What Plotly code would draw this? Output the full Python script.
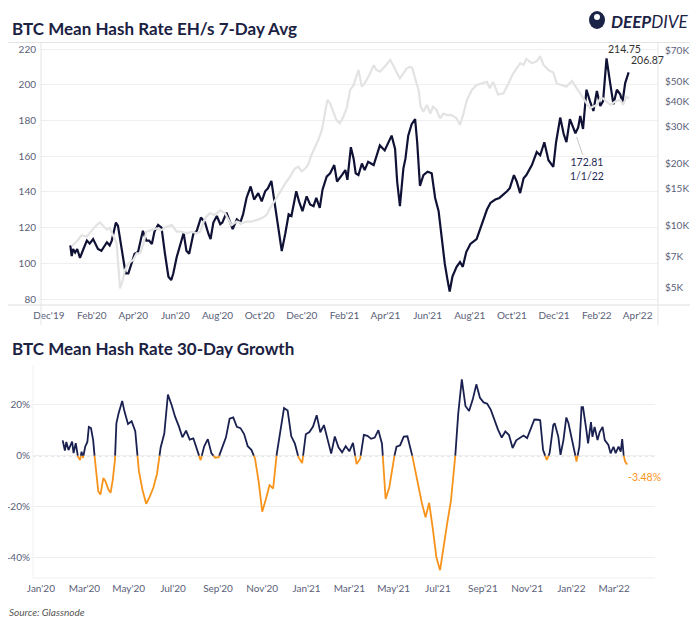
import plotly.graph_objects as go
import pandas as pd

START = pd.Timestamp("2020-01-01")

# ---- Top panel: BTC mean hash rate (EH/s, 7-day avg); day = days since 2020-01-01
hr_day = [0, 2, 4, 7, 10, 14, 19, 24, 28, 33, 40, 45, 53, 57, 60, 66, 69, 74, 80, 84,
          89, 93, 98, 105, 110, 114, 118, 122, 127, 132, 137, 142, 146, 149, 154, 159, 164, 168, 172, 178,
          183, 189, 195, 200, 203, 207, 212, 217, 220, 226, 231, 235, 241, 246, 250, 255, 261, 266, 272, 277,
          282, 286, 291, 296, 301, 306, 311, 316, 320, 327, 331, 336, 342, 347, 352, 356, 361, 365, 371, 376,
          382, 386, 393, 398, 401, 406, 410, 413, 417, 422, 426, 431, 439, 443, 448, 455, 460, 465, 470, 473,
          477, 482, 485, 489, 494, 499, 502, 506, 511, 517, 523, 528, 533, 537, 542, 546, 549, 553, 559, 564,
          568, 573, 579, 588, 595, 603, 608, 615, 621, 627, 632, 636, 642, 646, 651, 656, 660, 668, 675, 680,
          686, 692, 699, 703, 709, 714, 718, 723, 731, 735, 738, 742, 747, 752, 757, 762, 767, 771, 776, 782,
          786, 791, 796, 799, 803, 808]
hr_val = [110, 104, 108, 106, 108, 103, 108, 112.7, 111, 113.6, 108, 107, 111.8, 110, 112.7, 122.8, 121, 109, 94.3, 94.3,
          100.7, 105.3, 106.3, 118.2, 112.7, 112.7, 110.8, 118, 121.5, 120, 105.3, 92.5, 90.6, 94.3, 103.5, 110.8, 117, 107, 105.3, 116.4,
          118.2, 125.6, 122.8, 116.4, 113.6, 122.8, 126.5, 121.9, 122.8, 128.3, 122.8, 119.1, 124.6, 122.8, 127.4, 136.6, 143, 135.7, 139.3, 134.7,
          140.3, 142, 146.1, 132.9, 121.9, 106.8, 116.4, 127.4, 126.5, 140.3, 134.7, 129.2, 137.5, 132.9, 132, 136.6, 131, 141.2, 148.5, 150.4,
          155, 145.8, 149.4, 152.2, 146.7, 165, 158.6, 150.4, 149.4, 155.9, 152.2, 156.8, 155, 159.6, 166, 163.2, 167, 171.5, 164, 145.8,
          132, 153, 158.6, 171.5, 177.9, 180.7, 167.8, 143.4, 149.4, 151.3, 150.4, 136.6, 129.2, 114.5, 99.6, 90.4, 84.2, 92.5, 98, 100.7,
          98, 106.3, 110.8, 113.6, 121, 130.1, 133.8, 135.7, 136.6, 138.4, 140.3, 142.1, 149.4, 145.8, 139.3, 147.6, 149.4, 155, 162.3, 160.5,
          167.8, 157.7, 154, 167.8, 181.6, 172.4, 167.8, 180.7, 172.81, 176.1, 182.5, 175.2, 197.2, 190.8, 185.3, 196.5, 188.1, 190.8, 214.75, 199.1,
          189, 197.2, 194.5, 189.9, 200.9, 206.87]

# ---- Top panel: BTC price (USD, right log axis)
px_day = [2, 9, 16, 24, 31, 38, 43, 48, 53, 57, 62, 67, 72, 76, 79, 84, 91, 96, 101, 106,
          110, 118, 125, 132, 139, 147, 154, 161, 168, 176, 183, 188, 193, 197, 202, 209, 217, 224, 229, 233,
          241, 248, 255, 262, 270, 277, 284, 289, 294, 299, 303, 311, 318, 325, 330, 335, 340, 344, 349, 354,
          359, 364, 369, 372, 376, 381, 385, 390, 395, 400, 405, 410, 414, 417, 422, 426, 434, 439, 443, 448,
          455, 463, 467, 472, 477, 482, 487, 492, 495, 499, 504, 507, 511, 516, 521, 525, 530, 535, 540, 545,
          552, 559, 564, 569, 574, 581, 588, 595, 603, 607, 612, 619, 627, 634, 641, 646, 651, 656, 660, 668,
          675, 680, 685, 692, 699, 704, 711, 718, 726, 733, 740, 747, 752, 757, 762, 767, 771, 776, 782, 788,
          796, 800, 805, 809]
px_val = [7900, 8300, 8900, 8800, 9400, 10000, 10300, 9900, 9500, 9700, 8950, 8160, 4930, 5410, 6050, 6520, 6770, 7290, 7290, 8160,
          9290, 9460, 9640, 9460, 9820, 10000, 9290, 9290, 9120, 9290, 9120, 9290, 10400, 11000, 11400, 11200, 11800, 11400, 10600, 10000,
          10400, 10200, 10400, 10400, 10600, 10800, 11200, 12100, 12800, 13700, 14300, 15900, 17200, 18800, 19200, 18200, 18800, 19600, 21900, 23600,
          25900, 28900, 34800, 40500, 39000, 35500, 32400, 31200, 33500, 37000, 45300, 47900, 53500, 56600, 47000, 48700, 54500, 59800, 56600, 55500,
          58700, 63300, 59800, 55500, 51500, 54500, 57700, 58700, 57700, 51500, 45300, 37600, 35500, 38300, 34800, 37600, 36200, 33000, 34800, 34200,
          34200, 33000, 30600, 34800, 40500, 45300, 47900, 48700, 49600, 46100, 49600, 43000, 43600, 48700, 54500, 57700, 61000, 60000, 64000, 61000,
          62500, 66000, 59800, 56600, 55000, 48700, 47900, 47000, 50000, 46100, 42800, 39700, 36900, 37600, 38300, 41200, 41200, 39700, 38300, 39700,
          40500, 38300, 42000, 41200]

# ---- Bottom panel: 30-day growth of hash rate (%)
gr_day = [30, 33, 35, 38, 41, 43, 45, 48, 51, 54, 56, 58, 61, 64, 66, 69, 72, 74, 77, 79,
          82, 86, 89, 93, 96, 99, 102, 104, 107, 110, 112, 115, 120, 125, 130, 135, 140, 145, 150, 155,
          160, 165, 170, 175, 180, 185, 190, 195, 200, 205, 210, 215, 220, 225, 230, 235, 240, 245, 250, 255,
          260, 265, 270, 275, 280, 285, 290, 295, 300, 305, 310, 315, 320, 325, 330, 335, 340, 345, 350, 355,
          360, 365, 370, 375, 380, 385, 390, 395, 400, 405, 410, 415, 420, 425, 430, 435, 440, 445, 450, 455,
          460, 465, 470, 475, 480, 485, 490, 495, 500, 505, 510, 515, 520, 525, 530, 535, 540, 545, 550, 555,
          560, 565, 570, 575, 580, 585, 590, 595, 600, 605, 610, 615, 620, 625, 630, 635, 640, 645, 650, 655,
          660, 665, 670, 675, 680, 685, 688, 692, 697, 701, 706, 708, 713, 716, 720, 724, 727, 731, 735, 738,
          742, 745, 747, 751, 754, 758, 760, 763, 767, 770, 774, 777, 782, 785, 789, 792, 796, 799, 801, 803,
          805, 808]
gr_val = [6, 2, 5.4, 2.2, 4.2, 5.5, 1, 4.9, -0.4, -1.7, 1.6, -0.9, 3.5, 5.4, 11.3, 10.8, 6.1, -0.4, -6.9, -14,
          -15.3, -8.8, -10.1, -13.3, -14.6, -9.5, -1.7, 12.7, 16.6, 19.5, 21.5, 17.5, 12.4, 13.5, 9.6, -6.1, -13.5, -18.9, -16.1, -12.5,
          -7.1, 3.2, 8.7, 24, 20, 15.2, 11.6, 7.2, 9.8, 6.3, 6.8, 2.5, -1.8, 3.7, 6.5, 0.9, -0.8, -0.6, 3.7, 7.2,
          14.5, 15, 11.3, 10.8, 8.5, 3.7, 2.3, -1.1, -10.1, -22, -17.1, -11.6, -12.9, 0.7, 9.7, 18.7, 17.7, 7.6, 4.7, -0.7,
          -2.9, 8.4, 9.3, 11.4, 15.9, 9.2, 12, 6.6, 0.8, 7.5, 3.3, 1.3, 3.7, 1.7, 5, -3.3, -1.2, 8.2, 7.8, 6.6,
          7.1, 10, 4.7, -17, -12.5, -2.8, 3.5, 4.1, 7.5, 7.6, 2.5, -5, -12.7, -18.7, -24.2, -18.5, -28.7, -40, -45, -35,
          -26.3, -17.8, -4.1, 16.3, 30, 19.5, 17.5, 22, 28, 22.7, 20.9, 20.4, 18, 13.9, 10.1, 7.1, 9.5, 8.1, 3, 6,
          7.1, 7.9, 6.9, 10.6, 14.2, 14.1, 13.9, 2.2, -1.7, 1, 12, 12.7, 7.4, 0.3, 6, 15, 12.7, 7.4, 2.2, -2.3,
          3.5, 19, 19, 11.3, 4.8, 13.2, 7.4, 11.3, 6.1, 9.3, 11.3, 6.1, 4.2, 0.9, 3.5, 1, 3.5, 1.6, 6.5, 0.3,
          -2.3, -3.48]

# ---- Axis ticks
top_tick_dates = ["2019-12-01", "2020-02-01", "2020-04-01", "2020-06-01", "2020-08-01", "2020-10-01", "2020-12-01",
                  "2021-02-01", "2021-04-01", "2021-06-01", "2021-08-01", "2021-10-01", "2021-12-01", "2022-02-01", "2022-04-01"]
top_tick_text = ["Dec'19", "Feb'20", "Apr'20", "Jun'20", "Aug'20", "Oct'20", "Dec'20",
                 "Feb'21", "Apr'21", "Jun'21", "Aug'21", "Oct'21", "Dec'21", "Feb'22", "Apr'22"]
left_ticks = [80, 100, 120, 140, 160, 180, 200, 220]
right_ticks = [5000, 7000, 10000, 15000, 20000, 30000, 40000, 50000, 70000]
right_tick_text = ["$5K", "$7K", "$10K", "$15K", "$20K", "$30K", "$40K", "$50K", "$70K"]
bot_tick_dates = ["2020-01-01", "2020-03-01", "2020-05-01", "2020-07-01", "2020-09-01", "2020-11-01", "2021-01-01",
                  "2021-03-01", "2021-05-01", "2021-07-01", "2021-09-01", "2021-11-01", "2022-01-01", "2022-03-01"]
bot_tick_text = ["Jan'20", "Mar'20", "May'20", "Jul'20", "Sep'20", "Nov'20", "Jan'21",
                 "Mar'21", "May'21", "Jul'21", "Sep'21", "Nov'21", "Jan'22", "Mar'22"]
growth_ticks = [-40, -20, 0, 20]
growth_tick_text = ["-40%", "-20%", "0%", "20%"]

hr_dates = START + pd.to_timedelta(hr_day, unit="D")
px_dates = START + pd.to_timedelta(px_day, unit="D")
gr_dates = list(START + pd.to_timedelta(gr_day, unit="D"))

# split growth line into positive (navy) / negative (orange) pieces
pos_x, pos_y, neg_x, neg_y = [], [], [], []
for i, (d, v) in enumerate(zip(gr_dates, gr_val)):
    if i > 0:
        d0, v0 = gr_dates[i - 1], gr_val[i - 1]
        if (v0 >= 0) != (v >= 0):
            frac = v0 / (v0 - v)
            dc = d0 + (d - d0) * frac
            pos_x.append(dc); pos_y.append(0)
            neg_x.append(dc); neg_y.append(0)
            if v >= 0:
                neg_x.append(None); neg_y.append(None)
            else:
                pos_x.append(None); pos_y.append(None)
    if v >= 0:
        pos_x.append(d); pos_y.append(v)
    else:
        neg_x.append(d); neg_y.append(v)

# page has an 8px body margin; figure is sized so that it fits the 700x630 window
OFF = 8
W, H = 684, 614
def fx(x):
    return (x - OFF) / W
def fy(y):
    return 1 - (y - OFF) / H

NAVY = "#0f1235"
NAVY2 = "#1a2150"
ORANGE = "#F7931A"
GREY_LINE = "#e3e3e3"
TICK = "#5a6078"
GRID = "#efefef"
FONT = "Lato"

fig = go.Figure()
fig.add_trace(go.Scatter(x=px_dates, y=px_val, mode="lines", line=dict(color=GREY_LINE, width=2.2),
                         xaxis="x", yaxis="y2", hoverinfo="skip", showlegend=False))
fig.add_trace(go.Scatter(x=hr_dates, y=hr_val, mode="lines", line=dict(color=NAVY, width=2.2),
                         xaxis="x", yaxis="y", showlegend=False))
fig.add_trace(go.Scatter(x=neg_x, y=neg_y, mode="lines", line=dict(color=ORANGE, width=1.8),
                         xaxis="x2", yaxis="y3", showlegend=False))
fig.add_trace(go.Scatter(x=pos_x, y=pos_y, mode="lines", line=dict(color=NAVY2, width=1.8),
                         xaxis="x2", yaxis="y3", showlegend=False))

tickfont = dict(family=FONT, size=10, color=TICK)

fig.update_layout(
    width=W, height=H, margin=dict(l=0, r=0, t=0, b=0, autoexpand=False),
    paper_bgcolor="white", plot_bgcolor="white",
    font=dict(family=FONT),
    xaxis=dict(domain=[fx(41), fx(658)], anchor="y", automargin=False,
               range=["2019-11-19 14:00", "2022-04-30 12:00"],
               tickmode="array", tickvals=top_tick_dates, ticktext=top_tick_text,
               tickfont=tickfont, showgrid=False, zeroline=False, showline=False,
               ticks="", ticklabelstandoff=3),
    yaxis=dict(domain=[fy(305), fy(42.5)], anchor="x", automargin=False,
               range=[76.64, 223.64], tickmode="array", tickvals=left_ticks,
               tickfont=tickfont, showgrid=True, gridcolor=GRID, gridwidth=1,
               zeroline=False, showline=False, ticks="", ticklabelstandoff=4),
    yaxis2=dict(overlaying="y", side="right", anchor="x", type="log", automargin=False,
                range=[3.612, 4.8863], tickmode="array", tickvals=right_ticks, ticktext=right_tick_text,
                tickfont=tickfont, showgrid=False, zeroline=False, showline=False,
                ticks="", ticklabelstandoff=6),
    xaxis2=dict(domain=[fx(33), fx(655)], anchor="y3", automargin=False,
                range=["2019-12-21 02:00", "2022-04-26 05:00"],
                tickmode="array", tickvals=bot_tick_dates, ticktext=bot_tick_text,
                tickfont=tickfont, showgrid=False, zeroline=False, showline=False,
                ticks="", ticklabelstandoff=3),
    yaxis3=dict(domain=[fy(578), fy(365)], anchor="x2", automargin=False,
                range=[-48.05, 35.6], tickmode="array", tickvals=growth_ticks, ticktext=growth_tick_text,
                tickfont=tickfont, showgrid=True, gridcolor=GRID, gridwidth=1,
                zeroline=False, showline=False, ticks="", ticklabelstandoff=2),
)

shapes = [
    dict(type="line", xref="paper", yref="paper", x0=fx(8), x1=fx(690), y0=fy(42.5), y1=fy(42.5),
         line=dict(color="#e4e4e4", width=1)),
    dict(type="line", xref="paper", yref="paper", x0=fx(8), x1=fx(690), y0=fy(305), y1=fy(305),
         line=dict(color="#dedede", width=1)),
    dict(type="line", xref="paper", yref="paper", x0=fx(41), x1=fx(41), y0=fy(42.5), y1=fy(325),
         line=dict(color="#e4e4e4", width=1)),
    dict(type="line", xref="paper", yref="paper", x0=fx(658), x1=fx(658), y0=fy(42.5), y1=fy(325),
         line=dict(color="#e4e4e4", width=1)),
    dict(type="line", xref="paper", yref="paper", x0=fx(33), x1=fx(33), y0=fy(365), y1=fy(578),
         line=dict(color="#f0f0f0", width=1)),
    dict(type="line", xref="paper", yref="paper", x0=fx(33), x1=fx(655), y0=fy(578), y1=fy(578),
         line=dict(color="#f0f0f0", width=1)),
    # logo helmet
    dict(type="circle", xref="paper", yref="paper", x0=fx(589), x1=fx(605), y0=fy(29), y1=fy(11),
         fillcolor="#1b2346", line=dict(width=0)),
    dict(type="circle", xref="paper", yref="paper", x0=fx(594), x1=fx(600), y0=fy(20), y1=fy(14),
         fillcolor="white", line=dict(width=0)),
    # dotted zero line of the growth panel
    dict(type="line", xref="x2 domain", yref="y3", x0=0, x1=1, y0=0, y1=0,
         line=dict(color="#cfcfcf", width=1.5, dash="dot"), layer="below"),
]
fig.update_layout(shapes=shapes)

title_font = dict(family=FONT, size=17, color="#1b2142")
annotations = [
    dict(text="<b>BTC Mean Hash Rate EH/s 7-Day Avg</b>", xref="paper", yref="paper",
         x=fx(10), y=fy(28), xanchor="left", yanchor="middle", showarrow=False, font=title_font),
    dict(text="<b>BTC Mean Hash Rate 30-Day Growth</b>", xref="paper", yref="paper",
         x=fx(10), y=fy(348), xanchor="left", yanchor="middle", showarrow=False, font=title_font),
    dict(text="<b><i>DEEP</i></b><i>DIVE</i>", xref="paper", yref="paper",
         x=fx(609), y=fy(21), xanchor="left", yanchor="middle", showarrow=False,
         font=dict(family=FONT, size=17, color="#1b2346")),
    dict(text="<i>Source: Glassnode</i>", xref="paper", yref="paper",
         x=fx(7), y=fy(612), xanchor="left", yanchor="middle", showarrow=False,
         font=dict(family=FONT, size=10, color="#555555")),
    dict(text="214.75", x=hr_dates[hr_val.index(214.75)], y=214.75, xref="x", yref="y",
         xanchor="left", yanchor="bottom", showarrow=False, yshift=1, xshift=-1,
         font=dict(family=FONT, size=10.5, color="#333333")),
    dict(text="206.87", x=hr_dates[-1], y=hr_val[-1], xref="x", yref="y",
         xanchor="left", yanchor="bottom", showarrow=False, yshift=4, xshift=0,
         font=dict(family=FONT, size=10.5, color="#333333")),
    dict(text="172.81<br>1/1/22", x=hr_dates[hr_val.index(172.81)], y=172.81, xref="x", yref="y",
         showarrow=True, arrowhead=0, arrowwidth=1, arrowcolor="#c4c4c4", ax=12, ay=36, standoff=4,
         font=dict(family=FONT, size=10.5, color="#1f2a55"), align="center"),
    dict(text="-3.48%", x=gr_dates[-1], y=gr_val[-1], xref="x2", yref="y3",
         xanchor="left", yanchor="top", showarrow=False, yshift=-4, xshift=-1,
         font=dict(family=FONT, size=10.5, color=ORANGE)),
]
fig.update_layout(annotations=annotations)

fig.write_html("out.html")
